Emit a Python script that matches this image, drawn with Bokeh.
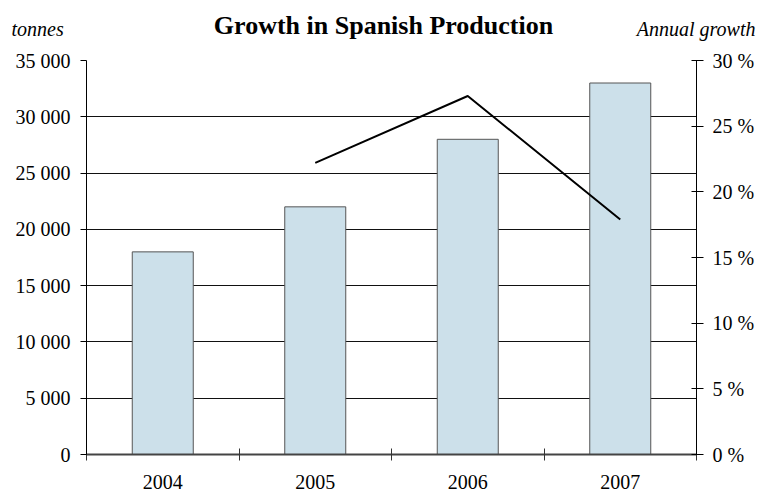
from bokeh.plotting import figure
from bokeh.models import Range1d, LinearAxis, FixedTicker, ColumnDataSource
from bokeh.layouts import column
from bokeh.core.properties import value
from bokeh.embed import file_html
from bokeh.resources import INLINE

years = [2004, 2005, 2006, 2007]
production = [18000, 22000, 28000, 33000]
growth_years = [2005, 2006, 2007]
growth_pct = [22.2, 27.3, 17.9]
left_ticks = [0, 5000, 10000, 15000, 20000, 25000, 30000, 35000]
left_labels = ["0", "5 000", "10 000", "15 000", "20 000", "25 000", "30 000", "35 000"]
right_ticks = [0, 5, 10, 15, 20, 25, 30]
right_labels = ["0 %", "5 %", "10 %", "15 %", "20 %", "25 %", "30 %"]
title_text = "Growth in Spanish Production"
left_unit = "tonnes"
right_unit = "Annual growth"

FONT = "Liberation Serif"
FS = "20px"
W, H, HEAD = 759, 496, 48

# ---- header with title and unit labels ----
head = figure(width=W, height=HEAD, output_backend="svg", toolbar_location=None,
              x_range=Range1d(0, W), y_range=Range1d(HEAD, 0),
              min_border=0, min_border_left=0, min_border_right=0,
              min_border_top=0, min_border_bottom=0)
head.frame_align = False
head.axis.visible = False
head.grid.visible = False
head.outline_line_color = None
head.text(x=[11], y=[28], text=[left_unit], text_font=value(FONT),
          text_font_size="20px", text_font_style="italic", text_color="black",
          text_baseline="middle", text_align="left")
head.text(x=[755], y=[28], text=[right_unit], text_font=value(FONT),
          text_font_size="20px", text_font_style="italic", text_color="black",
          text_baseline="middle", text_align="right")
head.text(x=[383], y=[25], text=[title_text], text_font=value(FONT),
          text_font_size="26px", text_font_style="bold", text_color="black",
          text_baseline="middle", text_align="center")

# ---- main chart ----
p = figure(width=W, height=H - HEAD, output_backend="svg", toolbar_location=None,
           x_range=Range1d(years[0] - 0.5, years[-1] + 0.5),
           y_range=Range1d(0, 35000),
           min_border_left=86, min_border_right=63, min_border_top=12, min_border_bottom=42)
p.frame_align = False
p.outline_line_color = None
p.background_fill_color = "white"
p.border_fill_color = "white"
p.extra_y_ranges = {"pct": Range1d(0, 30)}

src = ColumnDataSource(dict(x=years, y=production))
p.vbar(x="x", top="y", width=0.4, source=src, fill_color="#CCE0EA",
       line_color="#555555", line_width=1)
p.line(growth_years, growth_pct, y_range_name="pct", line_color="black", line_width=2)

# x axis
xa = p.xaxis[0]
minor = [y - 0.5 for y in years] + [years[-1] + 0.5]
xa.ticker = FixedTicker(ticks=years, minor_ticks=minor)
xa.major_label_overrides = {y: str(y) for y in years}
xa.major_tick_in = 0
xa.major_tick_out = 0
xa.minor_tick_in = 6
xa.minor_tick_out = 6
xa.minor_tick_line_color = "#333333"
xa.axis_line_color = "#444444"
xa.axis_line_width = 2
xa.major_label_standoff = 14
xa.major_label_text_font = FONT
xa.major_label_text_font_size = FS
xa.major_label_text_color = "black"
xa.major_label_text_font_style = "normal"
p.xgrid.visible = False

# left axis
ya = p.yaxis[0]
ya.ticker = FixedTicker(ticks=left_ticks)
ya.major_label_overrides = dict(zip(left_ticks, left_labels))
ya.major_tick_in = 0
ya.major_tick_out = 6
ya.minor_tick_line_color = None
ya.axis_line_color = "black"
ya.major_tick_line_color = "black"
ya.major_label_standoff = 10
ya.major_label_text_font = FONT
ya.major_label_text_font_size = FS
ya.major_label_text_color = "black"
p.ygrid.ticker = FixedTicker(ticks=left_ticks)
p.ygrid.grid_line_color = "#111111"
p.ygrid.grid_line_width = 1

# right axis
ra = LinearAxis(y_range_name="pct", ticker=FixedTicker(ticks=right_ticks))
ra.major_label_overrides = dict(zip(right_ticks, right_labels))
ra.major_tick_in = 5
ra.major_tick_out = 7
ra.minor_tick_line_color = None
ra.axis_line_color = "black"
ra.major_tick_line_color = "black"
ra.major_label_standoff = 9
ra.major_label_text_font = FONT
ra.major_label_text_font_size = FS
ra.major_label_text_color = "black"
p.add_layout(ra, "right")

layout = column(head, p, spacing=0)
open("out.html", "w").write(file_html(layout, INLINE))
